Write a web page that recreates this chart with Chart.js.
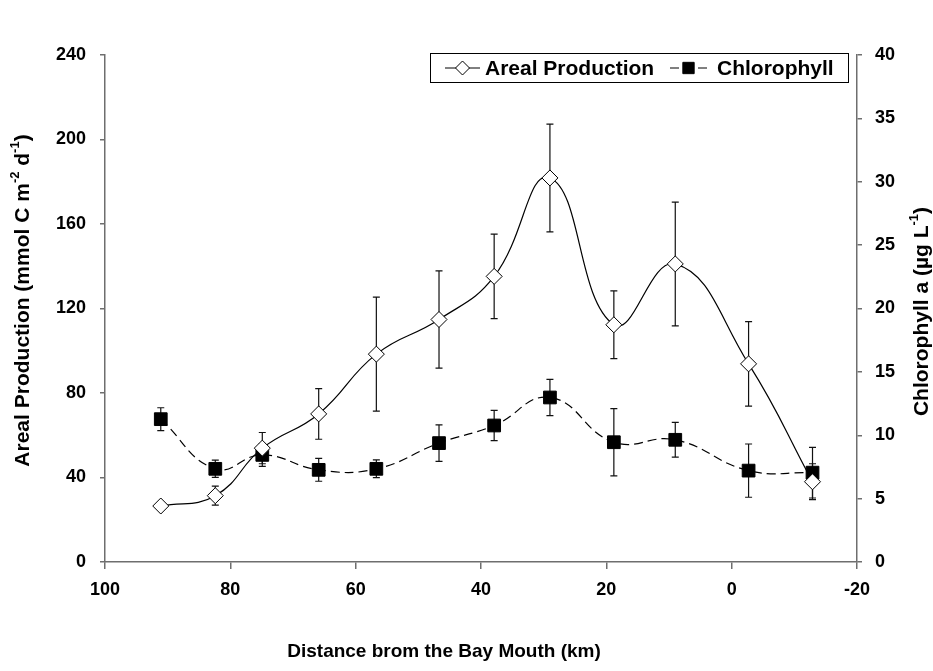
<!DOCTYPE html>
<html>
<head>
<meta charset="utf-8">
<script src="https://cdn.jsdelivr.net/npm/chart.js@4.4.1/dist/chart.umd.min.js"></script>
<style>
  html, body { margin: 0; padding: 0; background: #fff; }
  #wrap { width: 933px; height: 671px; }
</style>
</head>
<body>
<div id="wrap"><canvas id="chart" width="933" height="671"></canvas></div>
<script>
// distance from the bay mouth (km), one per station
const distanceKm = [91.1, 82.4, 74.9, 65.9, 56.7, 46.7, 37.9, 29.0, 18.8, 9.0, -2.7, -12.9];

// areal production (mmol C m-2 d-1) and its error
const arealProd = [26.5, 31.4, 53.9, 70.1, 98.4, 114.8, 135.2, 181.8, 112.3, 141.1, 93.8, 38.0];
const arealErr  = [0, 4.5, 7.4, 12, 27, 23, 20, 25.5, 16, 29.3, 20, 8.5];

// chlorophyll a (ug L-1) and its error
const chlA   = [11.27, 7.35, 8.45, 7.27, 7.35, 9.38, 10.77, 12.98, 9.45, 9.64, 7.21, 7.05];
const chlErr = [0.9, 0.68, 0.9, 0.9, 0.7, 1.44, 1.2, 1.43, 2.65, 1.37, 2.1, 2.0];

const xTicks = [100, 80, 60, 40, 20, 0, -20];
const leftTicks = [0, 40, 80, 120, 160, 200, 240];
const rightTicks = [0, 5, 10, 15, 20, 25, 30, 35, 40];

const FONT = '"Liberation Sans", Arial, sans-serif';
const AXIS_COLOR = '#6e6e6e';

function pairs(ys) {
  return distanceKm.map((x, i) => ({ x: x, y: ys[i] }));
}

// vertical error bars, drawn under the markers
const errorBars = {
  id: 'errorBars',
  beforeDatasetsDraw(chart) {
    const ctx = chart.ctx;
    chart.data.datasets.forEach((ds, di) => {
      if (!ds.errors) return;
      const meta = chart.getDatasetMeta(di);
      const ys = chart.scales[ds.yAxisID];
      ctx.save();
      ctx.strokeStyle = '#111';
      ctx.lineWidth = 1.2;
      meta.data.forEach((pt, i) => {
        const e = ds.errors[i];
        if (!e) return;
        const v = ds.data[i].y;
        const top = ys.getPixelForValue(v + e);
        const bot = ys.getPixelForValue(v - e);
        ctx.beginPath();
        ctx.moveTo(pt.x, top); ctx.lineTo(pt.x, bot);
        ctx.moveTo(pt.x - 3.5, top); ctx.lineTo(pt.x + 3.5, top);
        ctx.moveTo(pt.x - 3.5, bot); ctx.lineTo(pt.x + 3.5, bot);
        ctx.stroke();
      });
      ctx.restore();
    });
  }
};

// text runs with superscripts
function drawRuns(ctx, runs, cx, cy, size, rotate) {
  const main = 'bold ' + size + 'px ' + FONT;
  const small = 'bold ' + Math.round(size * 0.62) + 'px ' + FONT;
  let total = 0;
  runs.forEach(r => { ctx.font = r.sup ? small : main; total += ctx.measureText(r.t).width; });
  ctx.save();
  ctx.translate(cx, cy);
  if (rotate) ctx.rotate(-Math.PI / 2);
  ctx.fillStyle = '#000';
  ctx.textBaseline = 'middle';
  ctx.textAlign = 'left';
  let x = -total / 2;
  runs.forEach(r => {
    ctx.font = r.sup ? small : main;
    ctx.fillText(r.t, x, r.sup ? -size * 0.38 : 0);
    x += ctx.measureText(r.t).width;
  });
  ctx.restore();
}

const axisTitles = {
  id: 'axisTitles',
  afterDraw(chart) {
    const ctx = chart.ctx;
    const a = chart.chartArea;
    const mid = (a.top + a.bottom) / 2;
    drawRuns(ctx, [{ t: 'Areal Production (mmol C m' }, { t: '-2', sup: true }, { t: ' d' }, { t: '-1', sup: true }, { t: ')' }],
      a.left - 82, mid - 8, 21, true);
    drawRuns(ctx, [{ t: 'Chlorophyll a (\u00b5g L' }, { t: '-1', sup: true }, { t: ')' }],
      a.right + 65, mid + 3, 21, true);
    drawRuns(ctx, [{ t: 'Distance brom the Bay Mouth (km)' }],
      (a.left + a.right) / 2 - 37, a.bottom + 90, 19, false);
  }
};

// Excel-style boxed legend with line + marker samples
const boxLegend = {
  id: 'boxLegend',
  afterDraw(chart) {
    const ctx = chart.ctx;
    const a = chart.chartArea;
    const left = a.right - 427, top = a.top - 2, w = 418, h = 29;
    ctx.save();
    ctx.fillStyle = '#fff';
    ctx.fillRect(left, top, w, h);
    ctx.strokeStyle = '#000';
    ctx.lineWidth = 1;
    ctx.strokeRect(left + 0.5, top + 0.5, w, h);
    const cy = top + h / 2 + 0.5;
    const items = [
      { ds: 0, x0: left + 15, x1: left + 50, tx: left + 55 },
      { ds: 1, x0: left + 240, x1: left + 277, tx: left + 287 }
    ];
    ctx.font = 'bold 21px ' + FONT;
    ctx.textBaseline = 'middle';
    items.forEach(it => {
      const ds = chart.data.datasets[it.ds];
      ctx.strokeStyle = '#000';
      ctx.lineWidth = 1;
      ctx.setLineDash(ds.borderDash || []);
      ctx.beginPath(); ctx.moveTo(it.x0, cy); ctx.lineTo(it.x1, cy); ctx.stroke();
      ctx.setLineDash([]);
      ctx.fillStyle = ds.pointBackgroundColor;
      ctx.strokeStyle = ds.pointBorderColor;
      Chart.helpers.drawPoint(ctx, { pointStyle: ds.pointStyle, radius: ds.pointRadius - 1, borderWidth: 1 }, (it.x0 + it.x1) / 2, cy);
      ctx.fillStyle = '#000';
      ctx.fillText(ds.label, it.tx, cy + 1);
    });
    ctx.restore();
  }
};

const tickFont = { family: FONT, size: 18, weight: 'bold' };

new Chart(document.getElementById('chart').getContext('2d'), {
  type: 'line',
  data: {
    datasets: [{
      label: 'Areal Production',
      data: pairs(arealProd),
      errors: arealErr,
      yAxisID: 'y',
      borderColor: '#000',
      borderWidth: 1.2,
      tension: 0.45,
      pointStyle: 'rectRot',
      pointRadius: 8,
      pointBackgroundColor: '#fff',
      pointBorderColor: '#000',
      pointBorderWidth: 1
    }, {
      label: 'Chlorophyll',
      data: pairs(chlA),
      errors: chlErr,
      yAxisID: 'y1',
      borderColor: '#000',
      borderWidth: 1.2,
      borderDash: [9, 5],
      tension: 0.45,
      pointStyle: 'rect',
      pointRadius: 9,
      pointBackgroundColor: '#000',
      pointBorderColor: '#000',
      pointBorderWidth: 1
    }]
  },
  options: {
    responsive: false,
    animation: false,
    layout: { padding: { top: 55, left: 0, right: 0, bottom: 0 } },
    plugins: { legend: { display: false }, tooltip: { enabled: false } },
    scales: {
      x: {
        type: 'linear',
        reverse: true,
        min: -20, max: 100,
        afterBuildTicks: s => { s.ticks = xTicks.map(v => ({ value: v })); },
        afterFit: s => { s.height = 109; },
        ticks: { color: '#000', font: tickFont, padding: 10, maxRotation: 0 },
        grid: { drawOnChartArea: false, drawTicks: true, tickLength: 7, color: AXIS_COLOR, lineWidth: 1.5 },
        border: { color: AXIS_COLOR, width: 1.5 }
      },
      y: {
        position: 'left',
        min: 0, max: 240,
        afterBuildTicks: s => { s.ticks = leftTicks.map(v => ({ value: v })); },
        afterFit: s => { s.width = 105; },
        ticks: { color: '#000', font: tickFont, padding: 14 },
        grid: { drawOnChartArea: false, drawTicks: true, tickLength: 5, color: AXIS_COLOR, lineWidth: 1.5 },
        border: { color: AXIS_COLOR, width: 1.5 }
      },
      y1: {
        position: 'right',
        min: 0, max: 40,
        afterBuildTicks: s => { s.ticks = rightTicks.map(v => ({ value: v })); },
        afterFit: s => { s.width = 76; },
        ticks: { color: '#000', font: tickFont, padding: 13 },
        grid: { drawOnChartArea: false, drawTicks: true, tickLength: 5, color: AXIS_COLOR, lineWidth: 1.5 },
        border: { color: AXIS_COLOR, width: 1.5 }
      }
    }
  },
  plugins: [errorBars, axisTitles, boxLegend]
});
</script>
</body>
</html>
